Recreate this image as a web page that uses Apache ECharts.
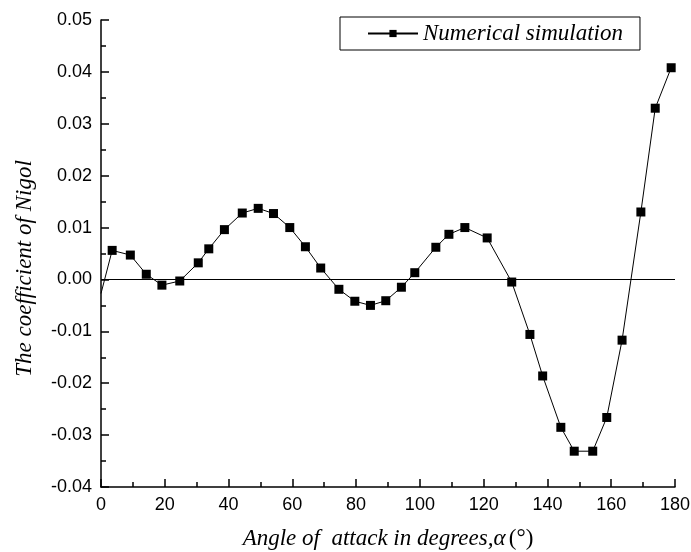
<!DOCTYPE html>
<html>
<head>
<meta charset="utf-8">
<script src="https://cdn.jsdelivr.net/npm/echarts@6/dist/echarts.min.js"></script>
<style>
    html, body { margin: 0; padding: 0; background: #fff; }
    #chart { width: 691px; height: 552px; }
</style>
</head>
<body>
<div id="chart"></div>
<script>
// angle of attack (degrees)
var angles = [0, 3.5, 9.2, 14.2, 19.1, 24.7, 30.5, 33.8, 38.7, 44.3, 49.3, 54.1, 59.2,
    64.1, 68.9, 74.6, 79.6, 84.5, 89.3, 94.2, 98.4, 105.0, 109.1, 114.1, 121.1,
    128.8, 134.5, 138.5, 144.2, 148.4, 154.2, 158.6, 163.4, 169.3, 173.8, 178.8];

// coefficient of Nigol
var coefs = [-0.0027, 0.0056, 0.0047, 0.0010, -0.0011, -0.0003, 0.0032, 0.0059, 0.0096,
    0.0128, 0.0137, 0.0127, 0.0100, 0.0063, 0.0022, -0.0019, -0.0042, -0.0050,
    -0.0041, -0.0015, 0.0013, 0.0062, 0.0087, 0.0100, 0.0080, -0.0005, -0.0106,
    -0.0186, -0.0285, -0.0331, -0.0331, -0.0266, -0.0117, 0.0130, 0.0330, 0.0408];

var seriesName = 'Numerical simulation';

var serif = '"Liberation Serif", "Times New Roman", serif';
var sans = '"Liberation Sans", Arial, sans-serif';

var chart = echarts.init(document.getElementById('chart'));

var data = [];
for (var i = 0; i < angles.length; ++i) {
    var item = { value: [angles[i], coefs[i]] };
    // the first point sits on the axis with no marker
    if (i === 0) {
        item.symbol = 'none';
    }
    data.push(item);
}

var axisCommon = {
    axisLine: { onZero: false, lineStyle: { color: '#000', width: 1.5 } },
    axisTick: { inside: true, length: 8, lineStyle: { color: '#000', width: 1.5 } },
    minorTick: { show: true, splitNumber: 2, length: 5, lineStyle: { color: '#000', width: 1.5 } },
    splitLine: { show: false },
    axisLabel: { color: '#000', fontFamily: sans, fontSize: 18 }
};

chart.setOption({
    animation: false,
    backgroundColor: '#fff',
    grid: { left: 101, right: 16, top: 20, bottom: 65, containLabel: false, outerBoundsMode: 'none' },
    legend: {
        data: [seriesName],
        left: 340,
        top: 17,
        width: 300,
        padding: [5, 17, 5, 27],
        borderColor: '#000',
        borderWidth: 1,
        itemWidth: 50,
        itemHeight: 9,
        itemGap: 0,
        textStyle: { color: '#000', fontFamily: serif, fontStyle: 'italic', fontSize: 23 }
    },
    xAxis: echarts.util.merge({
        type: 'value',
        min: 0,
        max: 180,
        interval: 20,
        name: '{i|Angle of  attack in degrees,α} {n|(°)}',
        nameLocation: 'middle',
        nameGap: 40,
        axisLabel: { margin: 9 },
        nameTextStyle: {
            rich: {
                i: { fontFamily: serif, fontStyle: 'italic', fontSize: 23, color: '#000' },
                n: { fontFamily: serif, fontSize: 23, color: '#000' }
            }
        }
    }, echarts.util.clone(axisCommon), true),
    yAxis: echarts.util.merge({
        type: 'value',
        min: -0.04,
        max: 0.05,
        interval: 0.01,
        name: 'The coefficient of Nigol',
        nameLocation: 'middle',
        nameGap: 65,
        nameTextStyle: {
            color: '#000',
            fontFamily: serif,
            fontStyle: 'italic',
            fontSize: 23,
            // nudge the rotated title a little lower, as in the original
            padding: [0, 30, 0, 0]
        },
        axisLabel: {
            margin: 9,
            formatter: function (v) {
                return v.toFixed(2);
            }
        }
    }, echarts.util.clone(axisCommon), true),
    series: [{
        name: seriesName,
        type: 'line',
        data: data,
        symbol: 'rect',
        symbolSize: 9,
        itemStyle: { color: '#000' },
        lineStyle: { color: '#000', width: 1 },
        markLine: {
            silent: true,
            symbol: 'none',
            label: { show: false },
            lineStyle: { color: '#000', width: 1, type: 'solid' },
            data: [{ yAxis: 0 }]
        }
    }]
});
</script>
</body>
</html>
